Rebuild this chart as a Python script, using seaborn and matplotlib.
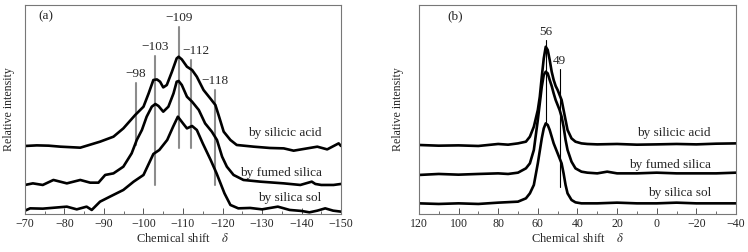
import pandas as pd
import matplotlib.pyplot as plt
import numpy as np
import seaborn as sns

# panel (a): 29Si spectra (relative intensity, stacked)
a_acid_x = [-70, -73, -76, -79, -84, -89, -92.4, -94.9, -97.9, -100, -101.3, -102.5, -103.4, -104.2, -105,
            -105.9, -107.2, -108.4, -108.9, -109.7, -111, -112.3, -113.5, -115.2, -116.9, -118.2, -119,
            -120.3, -122, -123.6, -127.9, -132, -135.5, -138, -141, -144, -146.5, -149.4, -150]
a_acid_y = [66.7, 67.3, 67, 66, 65, 71, 76, 84.3, 97.7, 106, 119.3, 132.7, 133.3, 131, 125.3,
            127.7, 141, 154.3, 156, 153.3, 146, 142.7, 136, 122.7, 114.3, 107.7, 97.7,
            81, 72.7, 67.7, 66, 64.7, 64.3, 62, 64, 66, 63.3, 69.3, 66.7]

a_fumed_x = [-70, -72, -74.5, -77.2, -80.6, -84, -86.5, -88.6, -90.3, -92.4, -94.9, -97, -98.3, -99.6,
             -100.8, -102.1, -103, -103.8, -105, -106.3, -107.6, -108.4, -108.9, -109.7, -111, -112.3,
             -114, -115.6, -117.3, -118.6, -119.9, -121.1, -122.8, -125.3, -129.6, -135.5, -139.7,
             -142.6, -143.5, -145, -148.1, -150]
a_fumed_y = [27.7, 29.3, 27.7, 32.7, 29.3, 32.7, 30, 30, 37.7, 39.3, 46, 59.3, 72.7, 82.7,
             96, 106, 108.7, 106.7, 101, 106, 119.3, 131, 131.7, 127.7, 116, 111,
             102.7, 89.3, 81, 72.7, 56, 46, 37.7, 32.7, 31, 29.3, 27.7,
             31, 28.7, 27.7, 27.7, 28.7]

a_sol_x = [-70, -71.3, -74.5, -80.6, -83.1, -85.6, -86.9, -89, -91.5, -94.9, -97.5, -100, -102.5, -104,
           -106, -107.5, -108.7, -110, -111, -112.3, -113.5, -115, -117, -118.5, -120.5, -122, -124,
           -127, -130, -134, -137, -140, -142, -144, -146, -148, -150]
a_sol_y = [2, 4.3, 4, 6, 3.3, 6, 2.7, 11, 16, 22.7, 31, 37.7, 58.7, 62.7,
           72.7, 86, 96, 89.3, 84.3, 86.7, 82.7, 69.3, 52.7, 39.3, 19.3, 7.7, 4.3,
           4.7, 3.3, 6, 2.7, 1.7, 0.3, 2, 4.3, 2, 1]

# panel (b): 13C spectra
b_acid_x = [120, 110, 100, 90, 80, 75, 70, 66, 64, 62, 60, 59, 58, 57, 56, 55, 54, 53, 52, 51, 50, 49,
            48, 47, 46, 45, 43, 41, 38, 35, 30, 20, 10, 0, -10, -20, -30, -40]
b_acid_y = [67.7, 67, 67.3, 66.7, 68.7, 68, 69.3, 71, 76, 86, 102.7, 116, 136, 154.3, 166, 162.7, 152.7,
            141, 132.7, 126.7, 122.7, 117.7, 112.7, 102.7, 92.7, 82.7, 74.3, 71, 69.3, 68.7, 68.3,
            68.7, 68, 68.3, 68.7, 68.3, 69, 69.3]

b_fumed_x = [120, 110, 100, 90, 80, 75, 70, 66, 64, 62, 60, 58, 57, 56, 55, 54, 53, 52, 51, 50, 49, 48,
             47, 46, 45, 43, 41, 38, 35, 30, 25, 20, 10, 0, -10, -20, -30, -40]
b_fumed_y = [37.7, 38.7, 38, 38.7, 39.3, 38.7, 40, 44.3, 49.3, 62.7, 92.7, 126, 137.7, 141, 139.3, 132.7,
             126.7, 119.3, 112.7, 107.7, 102.7, 96, 86, 72.7, 62.7, 51, 44.3, 41, 40, 39.3, 41, 39.3,
             39.3, 40, 39.3, 39.3, 39.3, 40]

b_sol_x = [120, 110, 100, 90, 80, 70, 66, 64, 62, 60, 58, 57, 56, 55, 54, 52, 50, 48, 47, 46, 45, 43,
           41, 38, 30, 20, 10, 0, -10, -20, -30, -40]
b_sol_y = [9.3, 8.7, 9.3, 8.7, 10, 11, 14.3, 19.3, 27.7, 49.3, 74.3, 84.3, 89.3, 87.7, 82.7, 69.3,
           59.3, 49.3, 39.3, 27.7, 19.3, 12.7, 10.3, 9.3, 9.3, 10, 9.3, 9.3, 10, 9.3, 9.3, 9.3]

series_names = ["by silicic acid", "by fumed silica", "by silica sol"]

# peak markers: position, line top, line bottom, label
a_peaks = [-98, -103, -109, -112, -118]
a_peak_top = [130, 156.7, 186, 153, 122.7]
a_peak_bot = [67.7, 27.7, 64.3, 64.3, 27.7]
a_peak_lab = ["\u221298", "\u2212103", "\u2212109", "\u2212112", "\u2212118"]
a_lab_shift = [0, 0, 0, -1.2, 0]

b_peaks = [56, 49]
b_peak_top = [173, 144]
b_peak_bot = [89, 26]
b_peak_lab = ["56", "49"]

sns.set_style("ticks")
plt.rcParams['font.family'] = ['Liberation Serif', 'DejaVu Serif']
plt.rcParams['mathtext.fontset'] = 'stix'


def frame(xs, ys):
    rows = []
    for name, x, y in zip(series_names, xs, ys):
        rows.append(pd.DataFrame({"shift": x, "intensity": y, "sample": name}))
    return pd.concat(rows, ignore_index=True)


df_a = frame([a_acid_x, a_fumed_x, a_sol_x], [a_acid_y, a_fumed_y, a_sol_y])
df_b = frame([b_acid_x, b_fumed_x, b_sol_x], [b_acid_y, b_fumed_y, b_sol_y])

fig = plt.figure(figsize=(7.48, 2.52), dpi=100)
ax1 = fig.add_axes([0.0334, 0.151, 0.4225, 0.829])
ax2 = fig.add_axes([0.560, 0.151, 0.424, 0.829])

for ax, df in [(ax1, df_a), (ax2, df_b)]:
    sns.lineplot(data=df, x="shift", y="intensity", units="sample", estimator=None, sort=False,
                 color="black", lw=1.9, ax=ax, legend=False)
    ax.set_ylim(-1.3, 207.7)
    ax.set_yticks([])
    ax.set_ylabel("Relative intensity", fontsize=8.6)
    ax.set_xlabel("Chemical shift    $\\delta$", fontsize=9, labelpad=1)
    for s in ax.spines.values():
        s.set_color("#777777")
        s.set_linewidth(0.8)
    ax.tick_params(axis="x", which="both", direction="in", top=False, labelsize=8.6,
                   color="#555555", pad=3)
    ax.tick_params(axis="x", which="major", length=4, width=0.7)
    ax.tick_params(axis="x", which="minor", length=2, width=0.6)

# panel (a)
ax1.set_xlim(-70, -150)
ax1.set_xticks(np.arange(-70, -151, -10))
ax1.set_xticks(np.arange(-75, -150, -10), minor=True)
ax1.set_xticklabels(["\u2212%d" % -t for t in np.arange(-70, -151, -10)])
ax1.yaxis.set_label_coords(-0.032, 0.5)
for x, top, bot, lab, dx in zip(a_peaks, a_peak_top, a_peak_bot, a_peak_lab, a_lab_shift):
    ax1.plot([x, x], [bot, top], color="#8c8c8c", lw=1.5, zorder=1)
    ax1.text(x + dx, top + 3, lab, ha="center", va="bottom", fontsize=9.5)
ax1.text(-73.5, 196.5, "(a)", fontsize=9.5, va="center")
ax1.text(-135.7, 79.7, "by silicic acid", fontsize=9.5, ha="center", va="center")
ax1.text(-134.8, 40, "by fumed silica", fontsize=9.5, ha="center", va="center")
ax1.text(-137, 14.5, "by silica sol", fontsize=9.5, ha="center", va="center")

# panel (b)
ax2.set_xlim(120, -40)
ax2.set_xticks(np.arange(120, -41, -20))
ax2.set_xticks(np.arange(110, -40, -20), minor=True)
ax2.set_xticklabels([("\u2212%d" % -t) if t < 0 else str(t) for t in np.arange(120, -41, -20)])
ax2.yaxis.set_label_coords(-0.047, 0.5)
for x, top, bot, lab in zip(b_peaks, b_peak_top, b_peak_bot, b_peak_lab):
    ax2.plot([x, x], [bot, top], color="black", lw=0.8, zorder=1)
    ax2.text(x, top + 2, lab, ha="center", va="bottom", fontsize=9.5)
ax2.text(105.4, 196.5, "(b)", fontsize=9.5, va="center")
ax2.text(-8.7, 79.7, "by silicic acid", fontsize=9.5, ha="center", va="center")
ax2.text(-6.9, 47.7, "by fumed silica", fontsize=9.5, ha="center", va="center")
ax2.text(-11.5, 19.7, "by silica sol", fontsize=9.5, ha="center", va="center")

plt.savefig("out.png", dpi=100)
